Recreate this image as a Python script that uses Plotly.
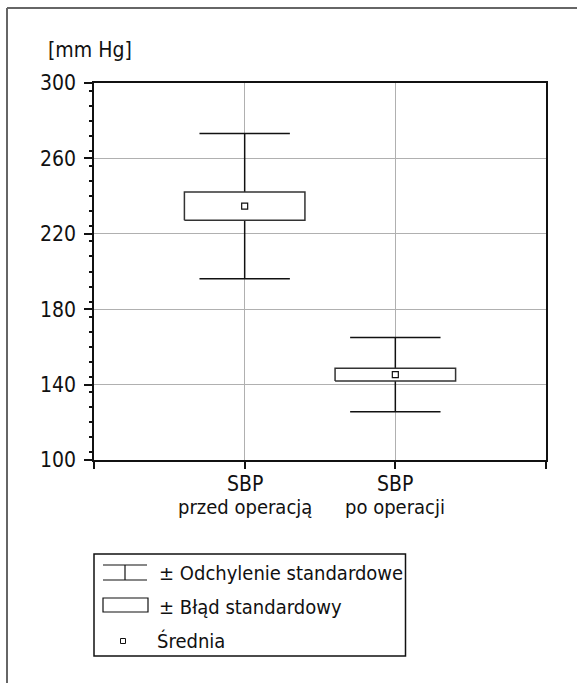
import plotly.graph_objects as go
import numpy as np

# ---- data ----
categories = ["SBP<br>przed operacją", "SBP<br>po operacji"]
means = [234.7, 145.3]
sd = [38.5, 19.7]
se = [7.5, 3.4]
y_ticks = [100, 140, 180, 220, 260, 300]
legend_labels = ["± Odchylenie standardowe", "± Błąd standardowy", "Średnia"]
unit_label = "[mm Hg]"

FONT = "DejaVu Sans Condensed, Liberation Sans Narrow, sans-serif"
INK = "#111111"

W_PX, H_PX = 577, 683
ML, MR, MT, MB = 94, 31, 83, 223
PW = W_PX - ML - MR
PH = H_PX - MT - MB


def px(x):
    return (x - ML) / PW


def py(y):
    return (H_PX - MB - y) / PH


fig = go.Figure()
xs = np.arange(len(categories))
box_hw = 0.4
cap_hw = 0.3

for i, x in enumerate(xs):
    m, s, e = means[i], sd[i], se[i]
    fig.add_trace(go.Scatter(x=[x, x], y=[m - s, m + s], mode="lines",
                             line=dict(color=INK, width=1.5), showlegend=False, hoverinfo="skip"))
    for v in (m - s, m + s):
        fig.add_trace(go.Scatter(x=[x - cap_hw, x + cap_hw], y=[v, v], mode="lines",
                                 line=dict(color=INK, width=1.5), showlegend=False, hoverinfo="skip"))
    fig.add_trace(go.Scatter(x=[x - box_hw, x + box_hw, x + box_hw, x - box_hw, x - box_hw],
                             y=[m - e, m - e, m + e, m + e, m - e], mode="lines",
                             fill="toself", fillcolor="white",
                             line=dict(color="#333333", width=1.5), showlegend=False, hoverinfo="skip"))
    fig.add_trace(go.Scatter(x=[x], y=[m], mode="markers",
                             marker=dict(symbol="square", size=6, color="white",
                                         line=dict(color=INK, width=1.2)),
                             showlegend=False, hoverinfo="skip"))

fig.update_xaxes(range=[-1, 2], tickvals=[-1, 0, 1, 2], ticktext=["", "", "", ""],
                 showgrid=True, gridcolor="#b0b0b0", gridwidth=1,
                 showline=True, linecolor=INK, linewidth=1.5, mirror=True,
                 ticks="outside", ticklen=7, tickcolor=INK, tickwidth=1.5,
                 zeroline=False)
fig.update_yaxes(range=[100, 300], tickvals=y_ticks,
                 showgrid=True, gridcolor="#b0b0b0", gridwidth=1,
                 showline=True, linecolor=INK, linewidth=1.5, mirror=True,
                 ticks="outside", ticklen=8, tickcolor=INK, tickwidth=1.5,
                 minor=dict(dtick=8, ticks="outside", ticklen=3, tickcolor=INK, tickwidth=1.5, showgrid=False),
                 tickfont=dict(family=FONT, size=21, color=INK), zeroline=False,
                 ticklabelstandoff=4)

shapes = []
shapes.append(dict(type="line", xref="paper", yref="paper", x0=px(7), x1=px(577), y0=py(8), y1=py(8),
                   line=dict(color="#666666", width=2)))
shapes.append(dict(type="line", xref="paper", yref="paper", x0=px(7), x1=px(7), y0=py(8), y1=py(683),
                   line=dict(color="#666666", width=2)))
shapes.append(dict(type="rect", xref="paper", yref="paper", x0=px(94), x1=px(405.5), y0=py(554), y1=py(656),
                   line=dict(color=INK, width=1.5), fillcolor="white"))
shapes.append(dict(type="line", xref="paper", yref="paper", x0=px(103), x1=px(147), y0=py(565), y1=py(565),
                   line=dict(color=INK, width=1.2)))
shapes.append(dict(type="line", xref="paper", yref="paper", x0=px(103), x1=px(147), y0=py(580), y1=py(580),
                   line=dict(color=INK, width=1.2)))
shapes.append(dict(type="line", xref="paper", yref="paper", x0=px(125), x1=px(125), y0=py(565), y1=py(580),
                   line=dict(color=INK, width=1.2)))
shapes.append(dict(type="rect", xref="paper", yref="paper", x0=px(103), x1=px(148), y0=py(598), y1=py(612),
                   line=dict(color=INK, width=1.2), fillcolor="white"))
shapes.append(dict(type="rect", xref="paper", yref="paper", x0=px(120.5), x1=px(125.5), y0=py(638.5), y1=py(643.5),
                   line=dict(color=INK, width=1), fillcolor="white"))

annotations = [
    dict(text=unit_label, xref="paper", yref="paper", x=px(46), y=py(50), xanchor="left", yanchor="middle",
         showarrow=False, font=dict(family=FONT, size=21, color=INK)),
]
# category labels, two lines each, centred on the category positions
for i, cat in enumerate(categories):
    lines = cat.split("<br>")
    for j, (line, yy) in enumerate(zip(lines, [484, 507])):
        annotations.append(dict(text=line, xref="x", yref="paper", x=xs[i], y=py(yy),
                                xanchor="center", yanchor="middle", showarrow=False,
                                font=dict(family=FONT, size=21 if j == 0 else 20, color=INK)))
rows_y = [573, 607, 641]
rows_x = [157, 157, 155]
for lab, yy, xx in zip(legend_labels, rows_y, rows_x):
    annotations.append(dict(text=lab, xref="paper", yref="paper", x=px(xx), y=py(yy),
                            xanchor="left", yanchor="middle", showarrow=False,
                            font=dict(family=FONT, size=20, color=INK)))

fig.update_layout(width=W_PX, height=H_PX, margin=dict(l=ML, r=MR, t=MT, b=MB),
                  paper_bgcolor="white", plot_bgcolor="white",
                  shapes=shapes, annotations=annotations, showlegend=False)

fig.write_html("out.html")
